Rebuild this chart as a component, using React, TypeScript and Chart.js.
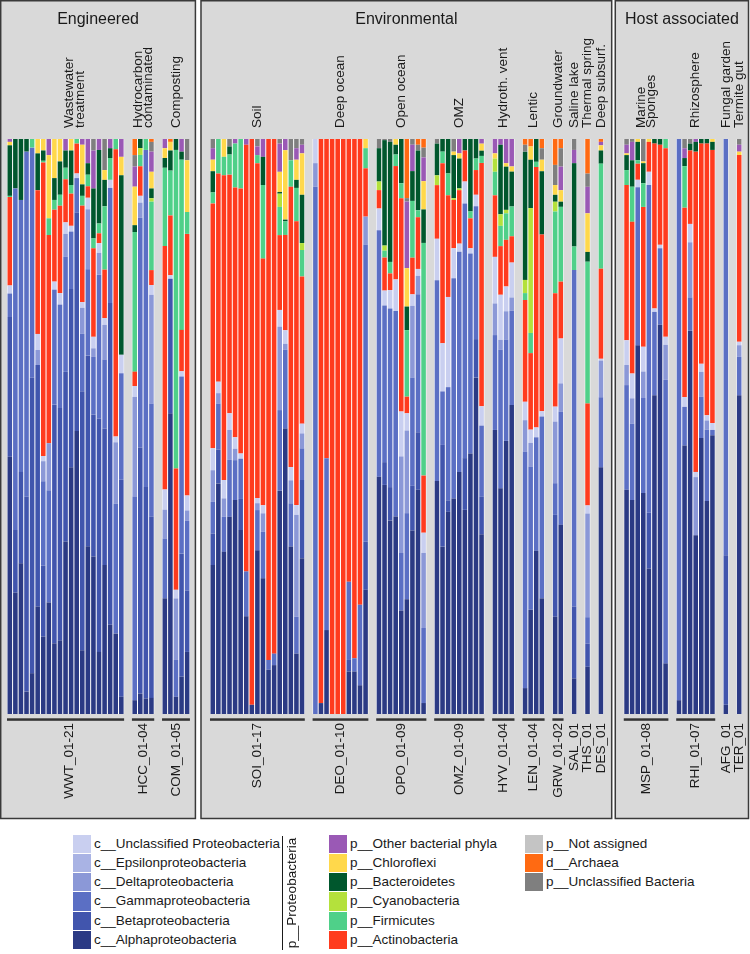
import React, { useEffect, useRef } from "react";
import { Chart, registerables } from "chart.js";
Chart.register(...registerables);

const FONT = '"Liberation Sans", Arial, Helvetica, sans-serif';

// ---- groups (samples) ----
const groupNames = ["WWT_01-21", "HCC_01-04", "COM_01-05", "SOI_01-17", "DEO_01-10", "OPO_01-09", "OMZ_01-09", "HYV_01-04", "LEN_01-04", "GRW_01-02", "SAL_01", "THS_01", "DES_01", "MSP_01-08", "RHI_01-07", "AFG_01", "TER_01"];
const groupSizes = [21, 4, 5, 17, 10, 9, 9, 4, 4, 2, 1, 1, 1, 8, 7, 1, 1];
const groupTitles = [["Wastewater", "treatment"], ["Hydrocarbon", "contaminated"], ["Composting"], ["Soil"], ["Deep ocean"], ["Open ocean"], ["OMZ"], ["Hydroth. vent"], ["Lentic"], ["Groundwater"], ["Saline lake"], ["Thermal spring"], ["Deep subsurf."], ["Marine", "Sponges"], ["Rhizosphere"], ["Fungal garden"], ["Termite gut"]];
const groupPanel = [0, 0, 0, 1, 1, 1, 1, 1, 1, 1, 1, 1, 1, 2, 2, 2, 2];
const panelTitles = ["Engineered", "Environmental", "Host associated"];

// ---- series (stack order bottom -> top) ----
const seriesNames = ["c__Alphaproteobacteria", "c__Betaproteobacteria", "c__Gammaproteobacteria", "c__Deltaproteobacteria", "c__Epsilonproteobacteria", "c__Unclassified Proteobacteria", "p__Actinobacteria", "p__Firmicutes", "p__Cyanobacteria", "p__Bacteroidetes", "p__Chloroflexi", "p__Other bacterial phyla", "p__Unclassified Bacteria", "d__Archaea", "p__Not assigned"];
const seriesColors = ["#2b3a84", "#4155ad", "#5b6fc4", "#8b98d7", "#a9b3e4", "#c9cff0", "#ff3b1e", "#4fd089", "#b4e13c", "#00572d", "#ffd84b", "#9a59b5", "#7f7f7f", "#ff6a12", "#c4c4c4"];

const alpha = [
  44.8, 21.1, 26.2, 3.9, 7.1, 18.7, 13.5, 19.4, 12.3, 12.8, 30, 42.9, 49.2, 11.1, 29.1, 27.4, 10.8, 25.9, 15.5, 14, 3,
  2.4, 3.6, 2.7, 2.8,
  20.1, 52.3, 3, 6.5, 10.8,
  25.9, 40.1, 28.2, 34.3, 37.5, 32, 17, 1.6, 28.5, 23.6, 7.7, 8.5, 38.8, 48.5, 29.1, 10.5, 27.1,
  0, 1.9, 14.6, 0, 0, 0, 7.4, 7.4, 5, 21.6,
  41.3, 40.2, 33.7, 34.3, 18, 20, 32, 39, 1.9,
  40.4, 29.1, 35.2, 37.5, 42.1, 35.5, 45.3, 58.5, 30.8,
  49.4, 39, 47.4, 54,
  4.5, 18.1, 27.9, 20.1,
  16.9, 32.9,
  6.2, 8.2, 43,
  39, 37.2, 64.2, 38.4, 25.3, 55.5, 67.7, 8.8,
  2.4, 46.5, 66.8, 31.1, 48, 37, 48.5,
  1.6, 55.5,
];
const beta = [
  24.3, 10.9, 15.9, 33.9, 51.4, 42, 12.4, 0, 41.5, 40.4, 29.5, 31, 38, 45.1, 33.1, 24.7, 40.6, 23.7, 55.9, 0, 37.7,
  0, 43.3, 36.8, 31.5,
  0, 23.4, 0, 21.4, 10.7,
  5.5, 5.9, 0, 0, 0, 5.4, 0, 0, 0, 0, 0, 0, 0, 0, 0, 0, 13.6,
  0, 0, 0, 0, 0, 0, 2, 0, 0, 8.4,
  0, 4, 5.8, 0, 0, 0, 7.8, 10, 0,
  0, 17.7, 2, 0, 0, 9, 0, 6.7, 6.4,
  0, 0, 0, 0,
  0, 0, 0, 0,
  17.7, 0,
  12.5, 4, 0,
  0, 0, 0, 0, 9.7, 0, 0, 0,
  0, 0, 0, 0, 0, 0, 0,
  26, 0,
];
const gamma = [
  4.1, 59.4, 47.3, 60, 40, 0, 14.7, 19.5, 20, 18, 20, 10, 6, 10, 15, 10, 25, 12, 20, 22.6, 18.5,
  35.4, 40.5, 58.6, 19.7,
  10.4, 0, 6.4, 30.8, 12.1,
  5.5, 8, 6.1, 9.9, 7, 7, 7.8, 0, 7, 8.1, 1.7, 2, 14, 13.4, 7.5, 6.4, 5.5,
  91.7, 0, 29.9, 0, 0, 0, 13.6, 2.3, 14, 51.6,
  42.9, 27.5, 31.1, 35.7, 10, 15, 18.9, 24, 13,
  34.8, 9.3, 19.7, 38.3, 38.3, 44.3, 34.8, 23.1, 12.2,
  16.5, 23.9, 17.6, 16.5,
  41.1, 24.9, 19.4, 31.6,
  5.5, 19.7,
  58.5, 4.6, 12.2,
  18.2, 13.3, 27.5, 16.5, 57, 14.5, 13.3, 49.3,
  97.6, 6.7, 5.8, 0, 7.2, 12.4, 0.9,
  72.4, 6.7,
];
const delta = [
  0, 0, 0, 0, 0, 2.6, 3.5, 8.2, 0, 0, 4, 0, 0, 4.5, 10.4, 1.5, 3.8, 6, 0, 10.7, 0,
  17.4, 2.6, 0, 18.9,
  5, 0, 10.7, 0, 1.8,
  5.5, 1.8, 3.2, 5.2, 2, 0, 0, 0, 1.2, 3.2, 0, 0, 14.5, 1, 4, 17.7, 2.6,
  4.1, 0, 0, 0, 0, 0, 0, 0, 0, 4.9,
  0, 0, 0, 0, 16.8, 14.4, 12.5, 3.2, 13,
  0, 0, 0, 0, 0, 0, 0, 0, 0,
  5.5, 1.7, 4.9, 2.3,
  5.5, 4.1, 0, 0,
  10.7, 4.9,
  0, 18, 6.4,
  3.5, 4.4, 0, 4.6, 0, 0, 0, 6.1,
  0, 0, 9.6, 10.1, 4.3, 1.6, 0,
  0, 2,
];
const epsilon = [
  0, 0, 0, 0, 0, 0, 0, 0, 0, 0, 0, 0, 0, 0, 0, 0, 0, 0, 0, 0, 0,
  0, 0, 0, 0,
  0, 0, 0, 0, 0,
  0, 0, 0, 0, 0, 0, 0, 0, 0, 0, 0, 0, 0, 0, 0, 0, 0,
  0, 0, 0, 0, 0, 0, 0, 0, 0, 0,
  0, 0, 0, 0, 0, 0, 0, 0, 0,
  0, 0, 0, 0, 0, 0, 0, 0, 0,
  0, 0, 0, 0,
  0, 0, 0, 0,
  0, 0,
  0, 0, 0,
  0, 0, 0, 0, 0, 0, 0, 0,
  0, 0, 0, 0, 0, 0, 0,
  0, 0,
];
const unclProteo = [
  1.4, 0, 0, 0, 0, 2.8, 0.9, 0, 1.4, 2, 2, 1, 0.8, 1, 2, 2, 1.7, 1.2, 1.4, 1, 3.2,
  1.9, 1.2, 0, 1.7,
  3.5, 0.6, 1.5, 0.9, 2.6,
  3.8, 2, 3.2, 2.9, 2, 0.9, 0, 0, 0.9, 1.4, 0, 0, 2.9, 2.3, 2.3, 1.7, 1.7,
  4.2, 0, 0, 0, 0, 0, 0, 0, 0, 0,
  3.8, 2.6, 3.2, 5.5, 7.8, 3, 2, 1.2, 3.5,
  7.2, 8.4, 15.7, 5.2, 1.4, 3.8, 0.9, 2, 3.3,
  8.1, 7.8, 4.3, 6.1,
  3.2, 2.3, 1.7, 0.9,
  2.6, 7.8,
  0, 1.4, 0.3,
  4.3, 4.3, 1.3, 4.3, 2.3, 0.6, 0.6, 1.4,
  0, 1.7, 3.2, 0.9, 1.4, 0.9, 1.2,
  0, 0.6,
];
const actino = [
  15.4, 0, 0, 0, 0, 25, 51.2, 36.2, 12.5, 15.2, 7.5, 5.6, 5.2, 16.8, 2, 15.4, 1.7, 8.4, 0, 50, 0,
  2.5, 5.2, 0, 2.6,
  42.3, 10.4, 21.1, 7.2, 45.5,
  42.6, 36.2, 53, 41.5, 43.8, 46.1, 74.2, 98.4, 58.3, 42.9, 90.6, 89.5, 13, 16.2, 48.7, 49.3, 25.6,
  0, 98.1, 55.5, 100, 100, 100, 77, 90.3, 81, 8.4,
  3.2, 5.8, 2.9, 19.7, 37.1, 2.9, 6.4, 9, 9.9,
  9.3, 31.3, 17.7, 8.4, 9.3, 5.4, 5.2, 4.3, 41.7,
  10.7, 8.4, 8.1, 4.6,
  17.7, 13.3, 44.5, 30.7,
  19.7, 9.9,
  0, 17.7, 15.7,
  27, 26.4, 2.8, 24.3, 5.2, 28.7, 17.4, 32.8,
  0, 32.8, 12.8, 55.7, 38.3, 47.2, 47.5,
  0, 32.5,
];
const firmicutes = [
  0.2, 0, 0, 0, 1.5, 0, 0.3, 2.9, 1.7, 1.9, 2, 1.5, 0.8, 1.7, 2, 1.7, 1.7, 11, 3.8, 1.8, 0,
  24.3, 2, 1.9, 11.9,
  13.6, 7.8, 55.4, 29.6, 3.8,
  1.9, 6, 3.2, 3.5, 7.7, 8.6, 0, 0, 1.4, 12.8, 0, 0, 4.9, 2.3, 4.6, 5.8, 4.6,
  0, 0, 0, 0, 0, 0, 0, 0, 0, 3.5,
  0, 1.2, 2, 2, 2.6, 11.6, 9.9, 1.2, 40.3,
  0, 2, 3.8, 0, 0, 0, 1.2, 2, 1.2,
  4.1, 3.5, 4.6, 5.2,
  1.2, 3.5, 0.9, 0,
  14.2, 13,
  4.1, 24.6, 18.3,
  2.6, 6.1, 0.6, 4.1, 0, 0, 0, 1.6,
  0, 7.2, 0, 0, 0, 0, 0,
  0, 0,
];
const cyano = [
  0, 0, 0, 0, 0, 0, 0, 0, 0, 0, 0, 0, 0, 0, 0, 0, 0, 0, 0, 0, 0,
  0, 1.2, 0, 0.6,
  0, 0, 0, 0, 0,
  0, 0, 0, 0, 0, 0, 0, 0, 0, 0, 0, 0, 2.3, 0, 0, 0, 1.2,
  0, 0, 0, 0, 0, 0, 0, 0, 0, 0,
  1.5, 0.9, 0, 0, 0, 0, 0, 0, 0,
  1.7, 0, 0, 0.3, 0.3, 0, 0, 0, 0,
  2.3, 2, 0.6, 0,
  2.3, 21.7, 0, 0,
  1.7, 0,
  0, 0, 0,
  0, 0, 0, 0, 0, 0, 0, 0,
  0, 0, 0, 0, 0, 0, 0,
  0, 0,
];
const bacteroidetes = [
  8.8, 8.6, 10.6, 2.2, 0, 6.4, 1.8, 0, 3.8, 5.8, 3, 6, 0, 2, 2, 8.7, 12.8, 4.6, 1.7, 0, 31.2,
  1.2, 1.6, 0, 1.7,
  1.7, 3.5, 1.9, 1.4, 0,
  3.7, 0, 0, 1.4, 0, 0, 0, 0, 0, 4.9, 0, 0, 0.3, 0.3, 0, 1.4, 8.4,
  0, 0, 0, 0, 0, 0, 0, 0, 0, 0,
  5.8, 18.5, 20.9, 1.7, 7.7, 4.1, 5.2, 10.4, 5.8,
  5.5, 2.2, 6, 7.5, 5.2, 2, 12.6, 3.4, 0.9,
  0, 12, 7.5, 6.1,
  22.3, 8.4, 3.9, 11,
  1.2, 0.9,
  14.5, 1.7, 2.3,
  2.6, 4.6, 3.2, 3.5, 0, 0.8, 1, 0,
  0, 1.4, 1.2, 1.7, 0.8, 0.8, 1.4,
  0, 0,
];
const chloroflexi = [
  0.6, 0, 0, 0, 0, 2.5, 2, 11, 6.8, 3.9, 0, 2, 0, 6.9, 0, 0, 0, 1.7, 0, 0, 3.2,
  6.7, 0, 0, 2.9,
  1.7, 1.5, 0, 0, 9,
  2, 0, 3.1, 0, 0, 0, 0, 0, 0, 0, 0, 0, 3.5, 11.8, 0, 3.5, 7.2,
  0, 0, 0, 0, 0, 0, 0, 0, 0, 1.6,
  0, 0, 0, 1, 0, 6.7, 0, 0, 4.9,
  0, 0, 0, 0.6, 0.9, 0, 0, 0, 1.2,
  0.9, 0, 0.6, 0.9,
  0, 2.3, 0, 2,
  1.7, 2,
  0, 6.7, 0.9,
  0.3, 0, 0.5, 0.3, 0.5, 0, 0, 0,
  0, 0, 0, 0, 0, 0, 0.5,
  0, 0.6,
];
const otherPhyla = [
  0.5, 0, 0, 0, 0, 0, 0, 2.8, 0, 0, 2, 0, 0, 1, 4.2, 6.6, 1.9, 0, 1.6, 0, 3.1,
  3.5, 0, 0, 3.5,
  1.6, 0, 0, 2.2, 0,
  2, 0, 0, 0, 0.8, 0, 1, 0, 1.5, 3.1, 0, 0, 4.9, 1.9, 0, 2, 1.5,
  0, 0, 0, 0, 0, 0, 0, 0, 0, 0,
  0, 0, 0, 0, 0, 11.6, 4.6, 0, 4.1,
  0, 0, 0, 0, 2.5, 0, 0, 0, 0.8,
  2.5, 1, 4.2, 4.8,
  0, 0, 0, 0,
  0, 4.1,
  2.3, 4.6, 0.6,
  1.5, 3.2, 0, 0, 0, 0, 0, 0,
  0, 1.7, 0, 0.5, 0, 0, 0,
  0, 1.2,
];
const unclBacteria = [
  0, 0, 0, 0, 0, 0, 0, 0, 0, 0, 0, 0, 0, 0, 0, 2, 0, 5.4, 0, 0, 0,
  2, 0, 0, 1.7,
  0, 0, 0, 0, 3.7,
  1.6, 0, 0, 1.3, 0, 0, 0, 0, 1.3, 0, 0, 0, 0.8, 0, 3.7, 1.6, 1,
  0, 0, 0, 0, 0, 0, 0, 0, 0, 0,
  1.6, 0.2, 0.5, 0, 0, 0.6, 1, 1, 1.7,
  0.8, 0, 0, 2.2, 0, 0, 0, 0, 0,
  0, 0, 0, 0,
  1.2, 0, 0, 2,
  3.5, 3.2,
  1.9, 2.3, 0,
  1, 0.5, 0, 3.9, 0, 0, 0, 0,
  0, 1.6, 0.8, 0, 0, 0, 0,
  0, 1,
];
const archaea = [
  0, 0, 0, 0, 0, 0, 0, 0, 0, 0, 0, 0, 0, 0, 0, 0, 0, 0, 0, 0, 0,
  2.8, 0, 0, 0.5,
  0, 0.5, 0, 0, 0,
  0, 0, 0, 0, 0, 0, 0, 0, 0, 0, 0, 0, 0, 0, 0, 0, 0,
  0, 0, 0, 0, 0, 0, 0, 0, 0, 0,
  0, 0, 0, 0, 0, 10.3, 0, 1, 1.5,
  0, 0, 0, 0, 0, 0, 0, 0, 0,
  0, 0, 0, 0,
  1, 1.3, 0, 1.6,
  4.5, 1.6,
  0, 6, 0.5,
  0, 0, 0, 0, 0, 0, 0, 0,
  0, 0, 0, 0, 0, 0, 0,
  0, 0,
];
const notAssigned = [
  0, 0, 0, 0, 0, 0, 0, 0, 0, 0, 0, 0, 0, 0, 0, 0, 0, 0, 0, 0, 0,
  0, 0, 0, 0,
  0, 0, 0, 0, 0,
  0, 0, 0, 0, 0, 0, 0, 0, 0, 0, 0, 0, 0, 0, 0, 0, 0,
  0, 0, 0, 0, 0, 0, 0, 0, 0, 0,
  0, 0, 0, 0, 0, 0, 0, 0, 0,
  0, 0, 0, 0, 0, 0, 0, 0, 0,
  0, 0, 0, 0,
  0, 0, 0, 0,
  0, 0,
  0, 0, 0,
  0, 0, 0, 0, 0, 0, 0, 0,
  0, 0, 0, 0, 0, 0, 0,
  0, 0,
];

const seriesValues = [alpha, beta, gamma, delta, epsilon, unclProteo, actino, firmicutes, cyano, bacteroidetes, chloroflexi, otherPhyla, unclBacteria, archaea, notAssigned];

// legend layout (index into series)
const legendCols = [
  { swatchX: 73, items: [5, 4, 3, 2, 1, 0] },
  { swatchX: 329, items: [11, 10, 9, 8, 7, 6] },
  { swatchX: 525, items: [14, 13, 12] },
];

// ---- geometry helpers ----
const GROUP_GAP = 1.4;
const PANEL_EXTRA = 2.2;
const positions: number[] = [];
const groupStart: number[] = [];
{
  let idx = 0;
  groupSizes.forEach((n, g) => {
    groupStart.push(idx);
    for (let k = 0; k < n; k++) {
      positions.push(idx + g * GROUP_GAP + groupPanel[g] * PANEL_EXTRA);
      idx++;
    }
  });
}
const totals = positions.map((_, i) => seriesValues.reduce((s, arr) => s + arr[i], 0));

const PANEL_PAD = [[6.3, 5.5], [9, 8], [8.5, 6.5]];
const TOP_SHIFT: Record<number, number> = { 0: 9 };
const BOTTOM_SHIFT: Record<number, number> = { 0: 4 };

function drawRot(ctx: CanvasRenderingContext2D, text: string, x: number, y: number, align: CanvasTextAlign) {
  ctx.save();
  ctx.translate(x, y);
  ctx.rotate(-Math.PI / 2);
  ctx.textAlign = align;
  ctx.textBaseline = "middle";
  ctx.fillText(text, 0, 0);
  ctx.restore();
}

const framePlugin = {
  id: "frames",
  beforeDatasetsDraw(chart: any) {
    const ctx: CanvasRenderingContext2D = chart.ctx;
    const xs = chart.scales.x;
    const area = chart.chartArea;
    const slot = xs.getPixelForValue(1) - xs.getPixelForValue(0);
    const ext: number[][] = groupSizes.map((n, g) => {
      const s = groupStart[g];
      return [xs.getPixelForValue(positions[s]) - slot / 2, xs.getPixelForValue(positions[s + n - 1]) + slot / 2];
    });
    ctx.save();
    // panels
    panelTitles.forEach((title, p) => {
      const gs = groupPanel.map((pp, g) => (pp === p ? g : -1)).filter((g) => g >= 0);
      const l = ext[gs[0]][0] - PANEL_PAD[p][0];
      const r = ext[gs[gs.length - 1]][1] + PANEL_PAD[p][1];
      ctx.fillStyle = "#d9d9d9";
      ctx.fillRect(l, 0.75, r - l, 817.75);
      ctx.strokeStyle = "#3a3a3a";
      ctx.lineWidth = 1.5;
      ctx.strokeRect(l, 0.75, r - l, 817.75);
      ctx.fillStyle = "#1a1a1a";
      ctx.font = `16px ${FONT}`;
      ctx.textAlign = "center";
      ctx.textBaseline = "alphabetic";
      ctx.fillText(title, (l + r) / 2, 24);
    });
    // white backgrounds behind groups
    ext.forEach(([l, r]) => {
      ctx.fillStyle = "#ffffff";
      ctx.fillRect(l, area.top, r - l, area.bottom - area.top);
    });
    // labels
    ctx.fillStyle = "#1a1a1a";
    ctx.font = `13.5px ${FONT}`;
    ext.forEach(([l, r], g) => {
      const cx = (l + r) / 2;
      const lines = groupTitles[g];
      const shift = TOP_SHIFT[g] || 0;
      lines.forEach((t, li) => {
        drawRot(ctx, t, cx + shift + (li - (lines.length - 1) / 2) * 10.5, area.top - 11, "left");
      });
      drawRot(ctx, groupNames[g], cx + (BOTTOM_SHIFT[g] || 0), area.bottom + 9, "right");
      if (groupSizes[g] > 1) {
        ctx.fillStyle = "#333333";
        ctx.fillRect(l, area.bottom + 4.3, r - l, 2.5);
        ctx.fillStyle = "#1a1a1a";
      }
    });
    ctx.restore();
  },
};

export default function App() {
  const ref = useRef<HTMLCanvasElement>(null);
  useEffect(() => {
    const datasets = seriesValues.map((arr, si) => ({
      label: seriesNames[si],
      data: arr.map((v, i) => ({ x: positions[i], y: (v / totals[i]) * 100 })),
      backgroundColor: seriesColors[si],
      borderWidth: 0,
      barPercentage: 0.82,
      categoryPercentage: 1,
      stack: "s",
    }));
    const chart = new Chart(ref.current as HTMLCanvasElement, {
      type: "bar",
      data: { datasets },
      options: {
        responsive: false,
        animation: false,
        devicePixelRatio: 1,
        layout: { padding: { left: 7, right: 8, top: 139, bottom: 116 } },
        plugins: { legend: { display: false }, tooltip: { enabled: false } },
        scales: {
          x: { type: "linear", stacked: true, offset: false, min: -0.5, max: positions[positions.length - 1] + 0.5, display: false },
          y: { stacked: true, min: 0, max: 100, display: false },
        },
      } as any,
      plugins: [framePlugin as any],
    });
    return () => chart.destroy();
  }, []);

  const rowH = 19.3;
  const top0 = 834.5;
  return (
    <div style={{ position: "absolute", left: 0, top: 0, width: 750, height: 954, background: "#fff", fontFamily: FONT, color: "#1a1a1a" }}>
      <canvas ref={ref} width={750} height={830} style={{ position: "absolute", left: 0, top: 0, width: 750, height: 830 }} />
      {legendCols.map((col, ci) =>
        col.items.map((si, r) => (
          <div key={`${ci}-${r}`} style={{ position: "absolute", left: col.swatchX, top: top0 + r * rowH, height: 18.3, display: "flex", alignItems: "center", whiteSpace: "nowrap" }}>
            <div style={{ width: 18, height: 18.3, background: seriesColors[si] }} />
            <span style={{ marginLeft: 3, fontSize: 13.5, lineHeight: "18.3px" }}>{seriesNames[si]}</span>
          </div>
        ))
      )}
      <div style={{ position: "absolute", left: 282, top: 836, width: 1, height: 114, background: "#1a1a1a" }} />
      <div style={{ position: "absolute", left: 292, top: 893, width: 0, height: 0 }}>
        <div style={{ position: "absolute", left: -70, top: -9, width: 140, height: 18, lineHeight: "18px", textAlign: "center", fontSize: 13.5, transform: "rotate(-90deg)", whiteSpace: "nowrap" }}>p__Proteobacteria</div>
      </div>
    </div>
  );
}
